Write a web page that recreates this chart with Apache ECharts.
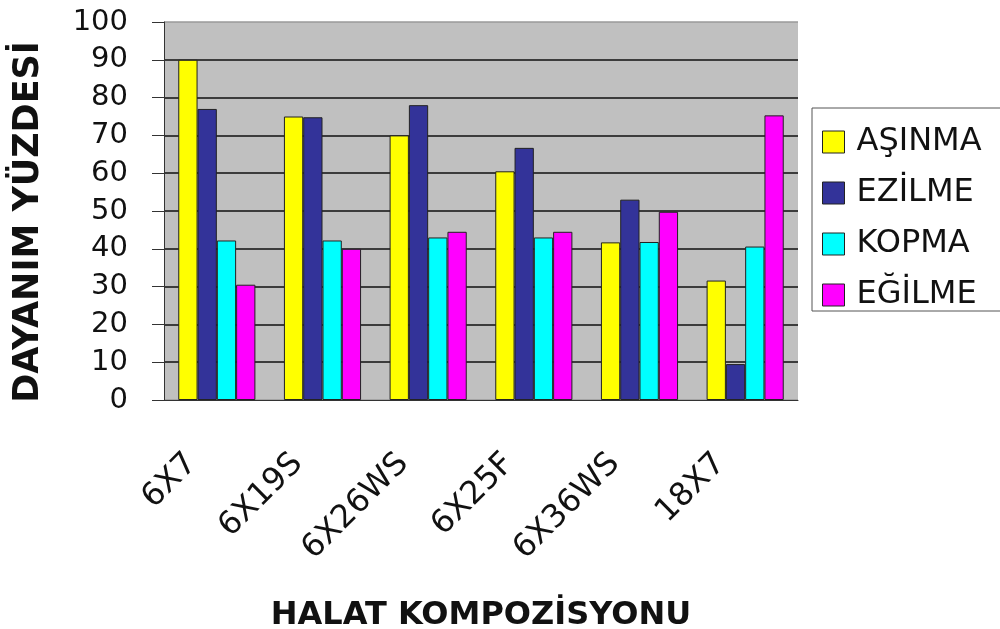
<!DOCTYPE html>
<html>
<head>
<meta charset="utf-8">
<script src="https://cdn.jsdelivr.net/npm/echarts@6/dist/echarts.min.js"></script>
<style>
  html, body { margin: 0; padding: 0; background: #fff; }
  #chart { width: 1000px; height: 629px; }
</style>
</head>
<body>
<div id="chart"></div>
<script>
const categories = ['6X7', '6X19S', '6X26WS', '6X25F', '6X36WS', '18X7']
const seriesNames = ['AŞINMA', 'EZİLME', 'KOPMA', 'EĞİLME']
const asinma = [90, 75, 70, 60.5, 41.7, 31.6]
const ezilme = [77, 74.8, 78, 66.7, 53, 9.5]
const kopma = [42.2, 42.2, 43, 43, 41.8, 40.6]
const egilme = [30.5, 40, 44.5, 44.5, 49.8, 75.3]
const yTicks = [0, 10, 20, 30, 40, 50, 60, 70, 80, 90, 100]

const colors = ['#ffff00', '#333399', '#00ffff', '#ff00ff']
const values = [asinma, ezilme, kopma, egilme]
const font = '"DejaVu Sans", Arial, sans-serif'

const chart = echarts.init(document.getElementById('chart'))

// gray line on 0 and 100, black grid lines in between
const splitColors = yTicks.map((v, i) => (i === 0 || i === yTicks.length - 1) ? '#9a9a9a' : '#111')

chart.setOption({
  animation: false,
  backgroundColor: '#fff',
  grid: {
    left: 164,
    right: 202,
    top: 22,
    bottom: 229,
    outerBoundsMode: 'none',
    show: true,
    backgroundColor: '#c0c0c0',
    borderWidth: 0
  },
  legend: {
    orient: 'vertical',
    left: 812,
    top: 108,
    padding: [18, 40, 0, 10],
    borderColor: '#555',
    borderWidth: 1,
    itemWidth: 22,
    itemHeight: 22,
    itemGap: 19,
    icon: 'rect',
    itemStyle: { borderColor: '#222', borderWidth: 1 },
    textStyle: { fontFamily: font, fontSize: 32, color: '#111', padding: [0, 0, 0, 7] },
    data: seriesNames
  },
  xAxis: {
    type: 'category',
    data: categories,
    name: 'HALAT KOMPOZİSYONU',
    nameLocation: 'middle',
    nameGap: 200,
    nameTextStyle: { fontFamily: font, fontSize: 32, fontWeight: 'bold', color: '#111' },
    axisLine: { lineStyle: { color: '#333', width: 1 } },
    axisTick: { length: 8, lineStyle: { color: '#333' } },
    axisLabel: {
      rotate: 45,
      margin: 34,
      padding: [0, 35, 0, 0],
      fontFamily: font,
      fontSize: 32,
      color: '#111'
    }
  },
  yAxis: {
    type: 'value',
    min: 0,
    max: 100,
    interval: 10,
    name: 'DAYANIM YÜZDESİ',
    nameLocation: 'middle',
    nameRotate: 90,
    nameGap: 118,
    nameTextStyle: { fontFamily: font, fontSize: 35, fontWeight: 'bold', color: '#111', padding: [0, 22, 0, 0] },
    axisLine: { show: true, lineStyle: { color: '#333', width: 1 } },
    axisTick: { show: true, length: 12, lineStyle: { color: '#333' } },
    axisLabel: { margin: 36, fontFamily: font, fontSize: 29, color: '#111' },
    splitLine: { show: true, lineStyle: { color: splitColors, width: 1.5 } }
  },
  series: seriesNames.map((name, i) => ({
    name: name,
    type: 'bar',
    data: values[i],
    barGap: '0%',
    barCategoryGap: '27%',
    itemStyle: { color: colors[i], borderColor: '#222', borderWidth: 1 }
  }))
})
</script>
</body>
</html>
